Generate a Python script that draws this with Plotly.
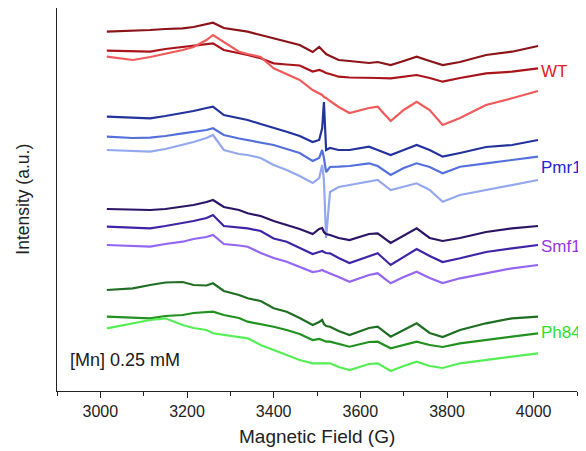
import plotly.graph_objects as go

# Magnetic field sample positions (G)
field = [3015, 3075, 3115, 3150, 3190, 3215, 3245, 3260, 3285, 3320, 3340, 3370,
         3400, 3430, 3460, 3490, 3505, 3512, 3516, 3521, 3530, 3550, 3575, 3620,
         3640, 3670, 3700, 3730, 3760, 3790, 3830, 3890, 3950, 4010]

# Intensity (a.u., stacked offsets)
wt_1 = [359.3, 360, 361, 362, 362.7, 364, 367, 368.3, 363, 360.5, 359.3, 356, 352.5, 349, 346, 339,
        344, 341, 339, 337, 335, 331, 330, 328, 329, 326, 330, 334.3, 330, 326, 329, 336, 339.3, 345]
wt_2 = [340.3, 340, 339.3, 342, 344.3, 345.5, 347, 347.7, 341, 338, 336, 332.7, 327.7, 326.5, 325.5, 319.5,
        321, 320, 319, 318, 317, 314.3, 313.5, 312.7, 313, 312.7, 314, 316, 313, 309.3, 313, 317.7, 319.3, 322.7]
wt_3 = [334.3, 331, 334, 337, 341, 344, 351, 356, 349, 339.3, 337, 334, 322.7, 317, 311, 301,
        298, 296, 294, 293, 290, 284, 278, 283, 284.3, 270, 281, 289.3, 281, 266, 273, 286, 292.7, 300]
pmr1_1 = [274.3, 273, 272.7, 275, 277.7, 280, 283, 284.3, 276, 273, 271, 267, 263.5, 259.3, 255, 249,
          251, 263, 289, 241, 243, 241, 241, 244.3, 241, 236, 241, 246, 241, 234.3, 238, 244, 246, 251]
pmr1_2 = [254.3, 253, 253.3, 255, 257.7, 259, 261, 262.7, 256, 252.5, 251, 249, 246, 242, 238, 230,
          233, 241, 233, 219, 224, 224.3, 225, 227.7, 225, 216, 223, 227.7, 224, 217.7, 224.3, 227.7, 231, 234.3]
pmr1_3 = [241, 240, 239.3, 242, 246, 249, 253, 256, 241, 237, 236, 233, 226, 221, 215, 208,
          213, 226, 211, 153, 199, 204, 206, 209, 211, 201, 204, 207.7, 201, 189.3, 196, 201, 206, 211]
smf1_1 = [182, 181, 181, 182, 184.3, 186, 189, 191, 184, 181, 177.7, 175, 170, 166, 162, 157,
          162, 163, 159, 157, 156, 153, 151, 157, 157.7, 148, 155, 162.7, 153, 150, 153, 159, 162.7, 165]
smf1_2 = [164.3, 163, 162.7, 165, 167.7, 170, 173, 176, 165, 163.5, 162.7, 160, 152.5, 149.3, 143, 137,
          139, 140, 139, 138, 137.7, 133, 128, 135, 137.7, 126, 134, 142, 135, 129, 132.7, 139, 142.7, 146]
smf1_3 = [146, 145, 144.3, 147, 149.3, 152, 154, 156, 147, 145.5, 144.3, 138, 133, 129.3, 124, 119,
          120, 121, 120, 119, 117.7, 114, 109.3, 116, 117.7, 107.7, 114, 119.3, 113, 108, 112.7, 117.7, 122.7, 126]
ph84_1 = [101, 102.7, 106, 108.5, 109, 106, 105.5, 107.7, 100, 96, 92.7, 90, 82.7, 79.3, 73, 66,
          69, 71, 67, 65, 64.3, 60, 56, 63, 64.3, 54.3, 61, 67.7, 58, 54, 61, 67.7, 72.7, 74.3]
ph84_2 = [74.3, 73, 72.7, 75, 76, 78, 79.3, 79.3, 76, 73, 69.3, 67, 64.3, 61, 57, 51,
          52, 51, 50, 49.3, 49.3, 47, 44.3, 49, 49.3, 42.7, 46, 49.3, 46, 44, 47.7, 51, 54.3, 57.7]
ph84_3 = [62.7, 67.7, 71, 72.7, 66, 63, 61, 57.7, 56, 54, 52.7, 46, 41, 36, 31, 27.7,
          28, 28, 27.7, 27.7, 27.7, 24, 21, 27, 27.7, 20, 25, 29.3, 25, 23, 27.7, 31, 34.3, 37.7]

series = [
    (wt_1, "#8a1418"), (wt_2, "#a8141a"), (wt_3, "#f05a5a"),
    (pmr1_1, "#23329c"), (pmr1_2, "#5570dc"), (pmr1_3, "#94a8ee"),
    (smf1_1, "#2c1466"), (smf1_2, "#3f24a8"), (smf1_3, "#9466f2"),
    (ph84_1, "#1f6e22"), (ph84_2, "#21921f"), (ph84_3, "#55ee55"),
]

group_labels = ["WT", "Pmr1", "Smf1", "Ph84"]
label_colors = ["#e0201e", "#2424d8", "#9a34e6", "#2ee02e"]
label_y = [320, 224, 145, 59]

x_ticks = [3000, 3200, 3400, 3600, 3800, 4000]
FONT = "Liberation Sans, Arial, sans-serif"

fig = go.Figure()
for vals, col in series:
    fig.add_trace(go.Scatter(x=field, y=vals, mode="lines",
                             line=dict(color=col, width=2.2), showlegend=False))

for lab, col, yy in zip(group_labels, label_colors, label_y):
    fig.add_annotation(x=0.927, xref="paper", y=yy, yref="y", text=lab,
                       showarrow=False, xanchor="left", yanchor="middle",
                       font=dict(size=17, color=col, family=FONT))

fig.add_annotation(x=2925, y=31, text="[Mn] 0.25 mM", showarrow=False, xanchor="left",
                   yanchor="middle", font=dict(size=18, color="#1a1a1a", family=FONT))

# axis titles
fig.add_annotation(x=0.5, xref="paper", y=-0.12, yref="paper", text="Magnetic Field (G)",
                   showarrow=False, xanchor="center", yanchor="middle",
                   font=dict(size=19, color="#222", family=FONT))
fig.add_annotation(x=-0.067, xref="paper", y=0.5, yref="paper", text="Intensity (a.u.)",
                   showarrow=False, xanchor="center", yanchor="middle", textangle=-90,
                   font=dict(size=17.5, color="#222", family=FONT))

fig.update_layout(
    width=578, height=443,
    margin=dict(l=49, r=9, t=0, b=60, autoexpand=False),
    plot_bgcolor="white", paper_bgcolor="white",
    font=dict(family=FONT, color="#222"),
)
fig.update_xaxes(
    range=[2900, 4100], showgrid=False, zeroline=False, automargin=False,
    showline=True, linecolor="#222", linewidth=1.2,
    tickvals=x_ticks, ticks="outside", ticklen=6, tickcolor="#222",
    tickfont=dict(size=16, color="#222"),
    minor=dict(dtick=100, tick0=2900, ticks="outside", ticklen=4, tickcolor="#222"),
)
fig.update_yaxes(
    range=[0, 383], showgrid=False, zeroline=False, automargin=False,
    showline=True, linecolor="#222", linewidth=1.2,
    showticklabels=False, ticks="",
)

fig.write_html("out.html")
